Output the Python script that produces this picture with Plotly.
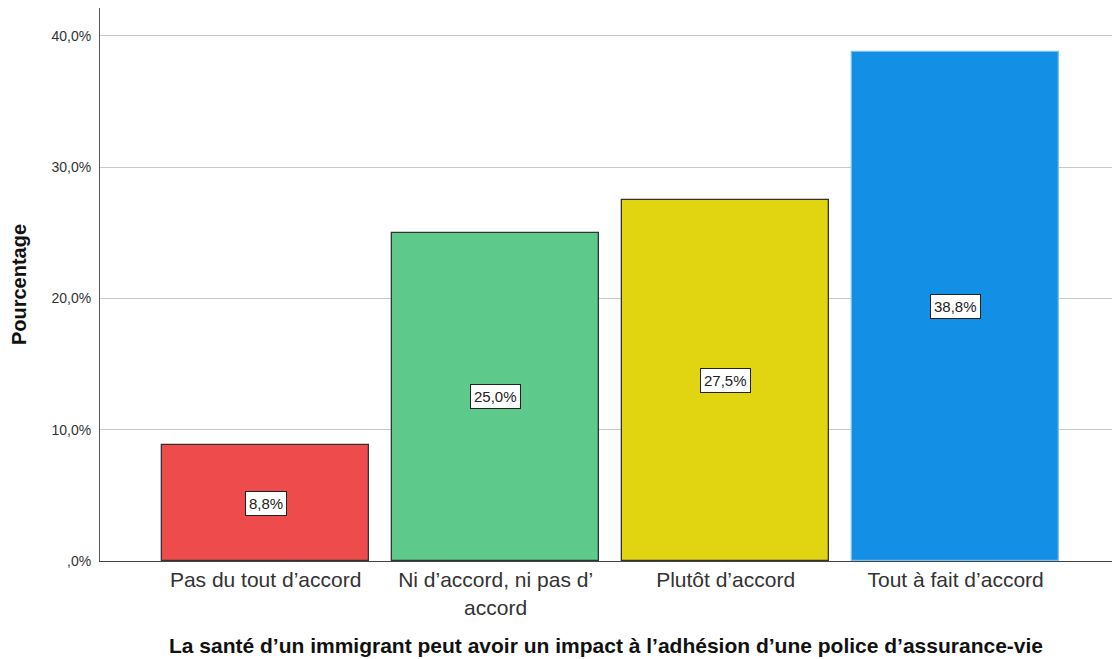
import plotly.graph_objects as go

categories = ["Pas du tout d’accord", "Ni d’accord, ni pas d’<br>accord", "Plutôt d’accord", "Tout à fait d’accord"]
percentages = [8.8, 25.0, 27.5, 38.8]
bar_colors = ["#EE4B4C", "#5DCA8B", "#E1D511", "#1390E6"]
edge_colors = ["#333333", "#333333", "#333333", "#7CC0F0"]
tick_values = [0, 10, 20, 30, 40]
tick_labels = [",0%", "10,0%", "20,0%", "30,0%", "40,0%"]

FONT = "Liberation Sans, Arial, sans-serif"

fig = go.Figure()
fig.add_trace(go.Bar(
    x=list(range(len(categories))),
    y=percentages,
    width=0.9,
    marker=dict(color=bar_colors, line=dict(color=edge_colors, width=1.3)),
    hoverinfo="skip",
))

# value boxes at mid-height of each bar
for i, v in enumerate(percentages):
    fig.add_annotation(
        x=i, y=v / 2, text=f"{v:.1f}".replace(".", ",") + "%",
        showarrow=False, font=dict(family=FONT, size=15, color="#222222"),
        bgcolor="white", bordercolor="#222222", borderwidth=1, borderpad=3,
    )

fig.update_layout(
    width=1112, height=659,
    margin=dict(l=100, r=0, t=8, b=98),
    plot_bgcolor="white", paper_bgcolor="white",
    showlegend=False,
    bargap=0,
    font=dict(family=FONT),
)
fig.update_xaxes(
    range=[-0.72, 3.68],
    tickvals=list(range(len(categories))), ticktext=categories,
    tickfont=dict(family=FONT, size=21, color="#333333"),
    showgrid=False, showline=True, linecolor="#444444", linewidth=1,
    ticks="", zeroline=False,
    title=dict(text="<b>La santé d’un immigrant peut avoir un impact à l’adhésion d’une police d’assurance-vie</b>",
               font=dict(family=FONT, size=21, color="#111111"), standoff=20),
)
fig.update_yaxes(
    range=[0, 42.13],
    tickvals=tick_values, ticktext=tick_labels,
    tickfont=dict(family=FONT, size=14, color="#333333"),
    showgrid=True, gridcolor="#C8C8C8", gridwidth=1,
    showline=True, linecolor="#555555", linewidth=1,
    ticks="outside", ticklen=5, tickcolor="rgba(0,0,0,0)",
    zeroline=False,
    title=dict(text="<b>Pourcentage</b>", font=dict(family=FONT, size=20, color="#111111"), standoff=19),
)

fig.write_html("out.html")
